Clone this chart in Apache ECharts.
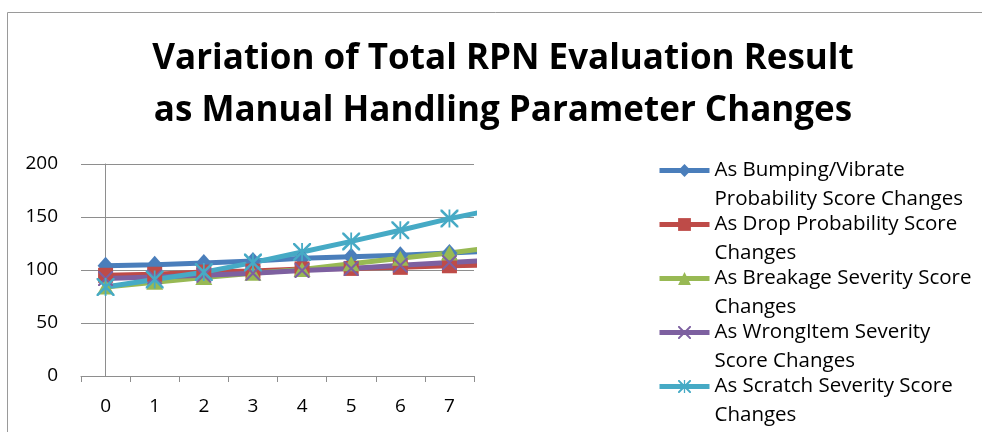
<!DOCTYPE html>
<html>
<head>
<meta charset="utf-8">
<title>Variation of Total RPN Evaluation Result</title>
<script src="https://cdn.jsdelivr.net/npm/echarts@6/dist/echarts.min.js"></script>
<style>
  html, body { margin: 0; padding: 0; background: #ffffff; }
  #chart { width: 982px; height: 432px; }
</style>
</head>
<body>
<div id="chart"></div>
<script>
// Score steps shown on the horizontal axis
const categories = ['0', '1', '2', '3', '4', '5', '6', '7'];
// Step positions of the plotted values (the last one runs past the visible range)
const steps = [0, 1, 2, 3, 4, 5, 6, 7, 8];

// Total RPN as each parameter score changes
const bumpingVibrate = [104, 105, 106.5, 108.5, 111, 112.5, 114, 116, 118];
const dropProbability = [95, 96, 98, 99, 101, 101.5, 102.5, 104, 105];
const breakageSeverity = [84, 88.5, 93, 97, 100.5, 106, 111, 116, 122];
const wrongItemSeverity = [92, 93.5, 95, 97, 99.5, 101.5, 104.5, 107, 109.5];
const scratchSeverity = [84, 91, 98, 107, 117, 127, 137.5, 148.5, 158];

const seriesNames = [
  'As Bumping/Vibrate Probability Score Changes',
  'As Drop Probability Score Changes',
  'As Breakage Severity Score Changes',
  'As WrongItem Severity Score Changes',
  'As Scratch Severity Score Changes'
];
const legendLines = [
  'As Bumping/Vibrate\nProbability Score Changes',
  'As Drop Probability Score\nChanges',
  'As Breakage Severity Score\nChanges',
  'As WrongItem Severity\nScore Changes',
  'As Scratch Severity Score\nChanges'
];
const yTicks = { min: 0, max: 200, step: 50 };

const colors = ['#4A7EBB', '#BE4B48', '#98B954', '#7D60A0', '#46AAC5'];
const crossPath = 'path://M0,0 L1,0 L10,9 L10,10 L9,10 L0,1 Z M10,0 L10,1 L1,10 L0,10 L0,9 L9,0 Z';
const starPath = 'path://M0,0 L1,0 L10,9 L10,10 L9,10 L0,1 Z M10,0 L10,1 L1,10 L0,10 L0,9 L9,0 Z M4.5,0 L5.5,0 L5.5,10 L4.5,10 Z';
const symbols = ['diamond', 'rect', 'triangle', crossPath, starPath];
const symbolSizes = [[16, 18], 15, [17, 15], 15, 18];
const values = [bumpingVibrate, dropProbability, breakageSeverity, wrongItemSeverity, scratchSeverity];

const font = '"Open Sans", Lato, sans-serif';
const gridColor = '#8E8E8E';

const chart = echarts.init(document.getElementById('chart'), null, { renderer: 'canvas' });

const series = values.map((vals, i) => ({
  name: seriesNames[i],
  type: 'line',
  xAxisIndex: 1,
  data: steps.map((s, k) => [s, vals[k]]),
  symbol: symbols[i],
  symbolSize: symbolSizes[i],
  showAllSymbol: true,
  clip: true,
  lineStyle: { color: colors[i], width: 5 },
  itemStyle: { color: colors[i], borderWidth: 0 },
  emphasis: { disabled: true },
  animation: false
}));

chart.setOption({
  animation: false,
  backgroundColor: '#ffffff',
  title: {
    text: 'Variation of Total RPN Evaluation Result\nas Manual Handling Parameter Changes',
    left: 498,
    top: 28,
    textAlign: 'center',
    textStyle: {
      fontFamily: font,
      fontWeight: 'bold',
      fontSize: 35,
      lineHeight: 52,
      color: '#000000'
    }
  },
  legend: {
    orient: 'vertical',
    left: 657,
    top: 127,
    padding: 0,
    itemGap: -33,
    itemWidth: 50,
    itemHeight: 16,
    selectedMode: false,
    data: seriesNames,
    formatter: name => '\n' + legendLines[seriesNames.indexOf(name)],
    lineStyle: { width: 5 },
    textStyle: {
      fontFamily: font,
      fontSize: 20.5,
      lineHeight: 29,
      color: '#000000'
    }
  },
  grid: {
    left: 81,
    right: 508,
    top: 164,
    bottom: 56,
    containLabel: false
  },
  xAxis: [
    {
      type: 'category',
      data: categories,
      boundaryGap: true,
      axisLine: { show: true, lineStyle: { color: gridColor, width: 1 } },
      axisTick: { show: true, interval: 0, length: 6, lineStyle: { color: gridColor } },
      axisLabel: {
        interval: 0,
        margin: 21,
        fontFamily: font,
        fontSize: 19,
        color: '#000000'
      },
      splitLine: { show: false }
    },
    {
      type: 'value',
      min: -0.5,
      max: 7.5,
      show: false,
      splitLine: { show: false }
    }
  ],
  yAxis: {
    type: 'value',
    min: yTicks.min,
    max: yTicks.max,
    interval: yTicks.step,
    axisLine: { show: true, lineStyle: { color: gridColor, width: 1 } },
    axisTick: { show: true, length: 7, lineStyle: { color: gridColor } },
    axisLabel: {
      margin: 23,
      fontFamily: font,
      fontSize: 19,
      color: '#000000'
    },
    splitLine: { show: true, lineStyle: { color: gridColor, width: 1 } }
  },
  graphic: [
    {
      type: 'rect',
      silent: true,
      z: -1,
      shape: { x: 7.5, y: 12.5, width: 1000, height: 500 },
      style: { fill: null, stroke: '#9A9A9A', lineWidth: 1 }
    }
  ],
  series: series
});
</script>
</body>
</html>
